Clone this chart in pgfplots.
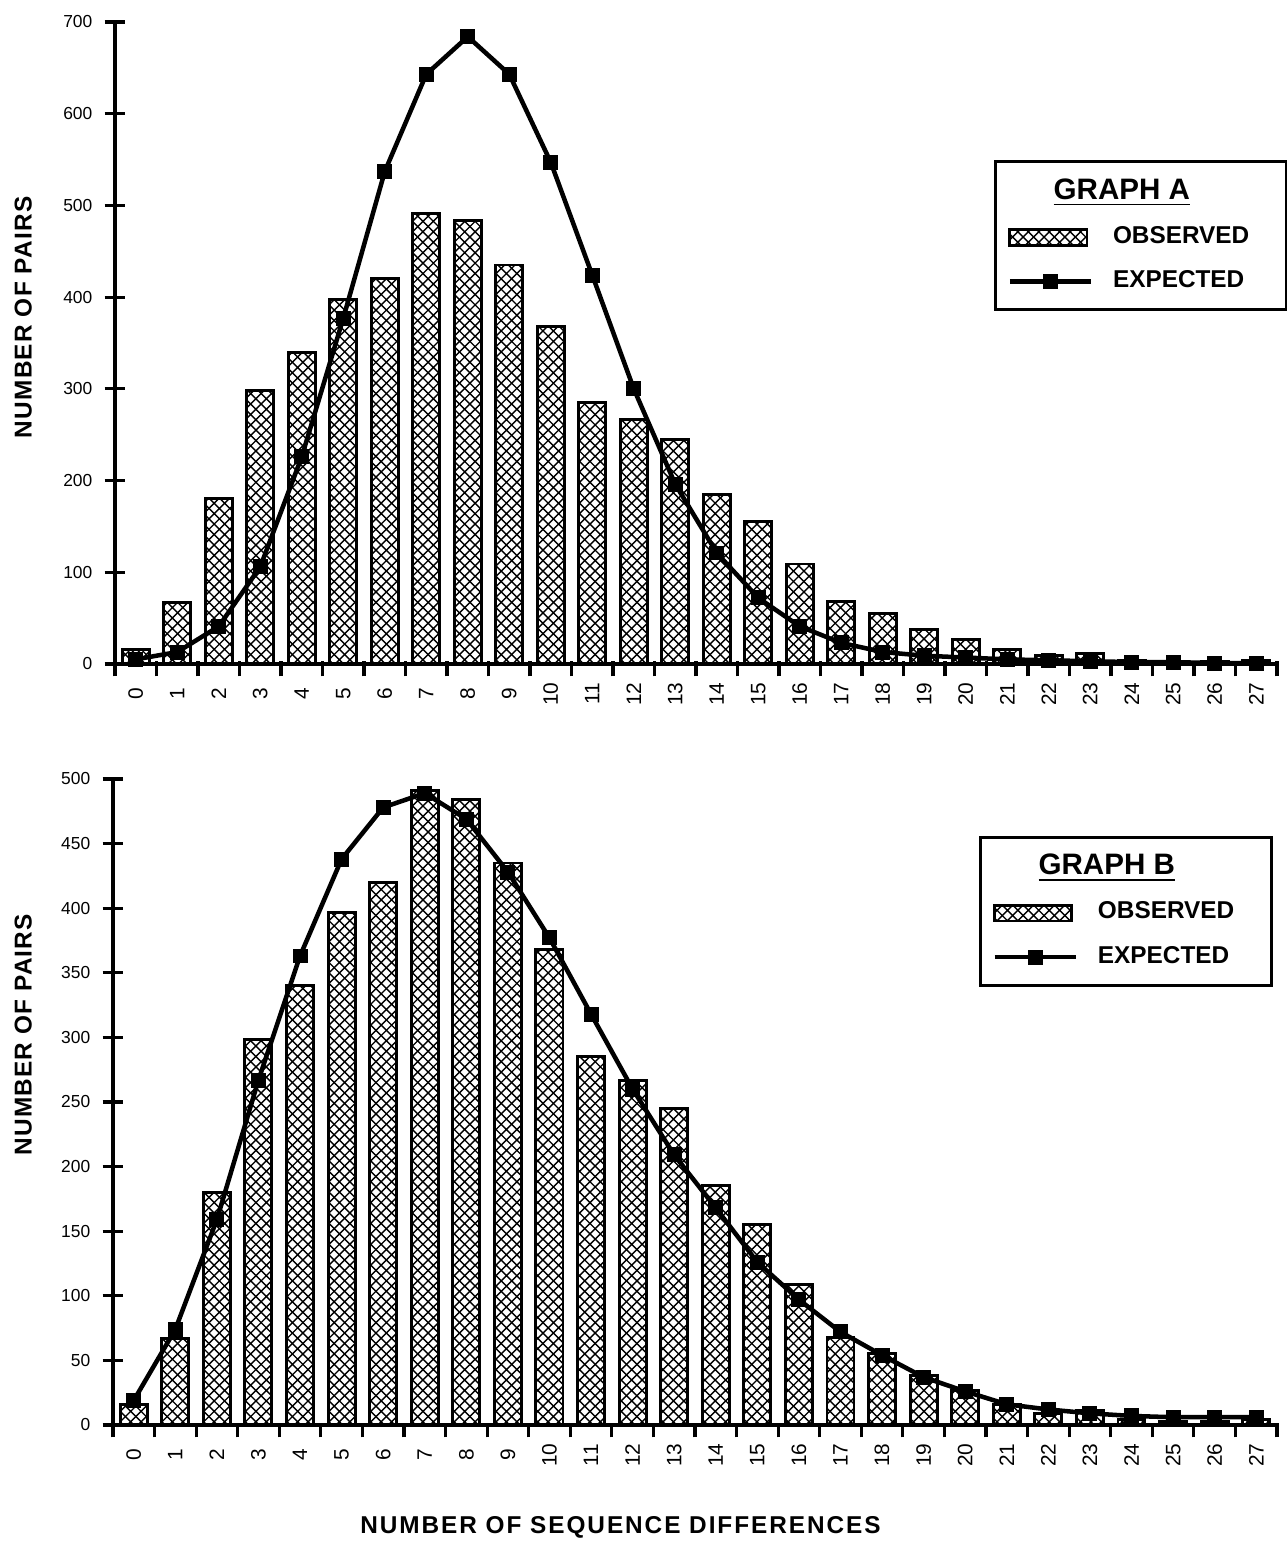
\documentclass[border=0pt]{standalone}
\usepackage{fontspec}
\setmainfont{Liberation Sans}
\usepackage{pgfplots}
\pgfplotsset{compat=1.18}
\usetikzlibrary{patterns}

\newcommand{\lblfont}{\fontsize{7}{8}\selectfont\bfseries}

\pgfplotsset{
  pairs/.style={
    scale only axis,
    axis lines=left,
    axis line style={-, line width=0.9pt},
    xmin=-0.5, xmax=27.5, ymin=0,
    xtick={0,...,27},
    minor xtick={-0.5,0.5,...,27.5},
    major x tick style={draw=none},
    tick align=center,
    major tick length=0.21cm,
    minor tick length=0.15cm,
    tick style={line width=0.9pt, black},
    minor x tick style={yshift=-0.05cm},
    % rotated labels: xshift runs downwards here
    xticklabel style={rotate=90, anchor=center, xshift=-0.2cm, font=\fontsize{6}{7}\selectfont},
    yticklabel style={font=\fontsize{5}{6}\selectfont},
    /pgf/number format/assume math mode=true,
    ylabel={\addfontfeature{LetterSpace=5}NUMBER OF PAIRS},
    label style={font=\lblfont},
    legend style={anchor=north west, draw=black, line width=0.9pt,
      inner xsep=0.12cm, inner ysep=0.1cm, row sep=0.08cm, column sep=0.13cm,
      font=\lblfont, cells={anchor=west, inner sep=0pt}},
  },
  obs/.style={ybar, bar width=0.65, draw=black, line width=0.85pt, pattern=crosshatch,
    legend image code/.code={\draw[#1] (0cm,-0.08cm) rectangle (0.78cm,0.08cm);}},
  expd/.style={sharp plot, black, line width=1.3pt, mark=square*, mark size=1.5pt,
    legend image code/.code={\draw[mark repeat=2,mark phase=2,#1] plot coordinates {(0cm,0cm) (0.41cm,0cm) (0.82cm,0cm)};}},
}

% observed pairs, same in both graphs
\pgfplotstableread{
k n
0 16
1 67
2 180
3 298
4 340
5 397
6 420
7 491
8 484
9 435
10 368
11 285
12 267
13 245
14 185
15 155
16 109
17 68
18 55
19 38
20 27
21 16
22 9
23 11
24 4
25 3
26 3
27 4
}\observed

\pgfplotstableread{
k n
0 5
1 13
2 41
3 106
4 226
5 377
6 537
7 643
8 684
9 643
10 547
11 424
12 300
13 196
14 121
15 72
16 41
17 23
18 13
19 9
20 7
21 5
22 4
23 3
24 2
25 2
26 1
27 1
}\expA

\pgfplotstableread{
k n
0 19
1 74
2 159
3 267
4 363
5 438
6 478
7 489
8 469
9 428
10 377
11 318
12 260
13 209
14 168
15 126
16 97
17 72
18 54
19 37
20 26
21 16
22 12
23 9
24 7
25 6
26 6
27 6
}\expB

\begin{document}
\begin{tikzpicture}
\useasboundingbox (0,0) rectangle (13cm,15.576cm);

% GRAPH A
\begin{axis}[pairs,
  at={(1.162cm,8.869cm)}, anchor=south west,
  width=11.737cm, height=6.485cm,
  ymax=700, ytick={0,100,...,700},
  ylabel style={at={(axis description cs:-0.079,0.54)}, anchor=center},
  legend style={at={(axis description cs:0.7565,0.785)}},
]
\addlegendimage{empty legend}
\addplot[obs] table[x=k,y=n] {\observed};
\addplot[expd] table[x=k,y=n] {\expA};
\legend{{\fontsize{8.5}{9}\selectfont\hspace*{-0.6cm}\underline{GRAPH A}\rule[-0.17cm]{0pt}{0pt}},
  {\makebox[1.56cm][l]{OBSERVED}}, {EXPECTED}}
\end{axis}

% GRAPH B
\begin{axis}[pairs,
  at={(1.141cm,1.182cm)}, anchor=south west,
  width=11.758cm, height=6.525cm,
  ymax=500, ytick={0,50,...,500},
  ylabel style={at={(axis description cs:-0.077,0.604)}, anchor=center},
  xlabel={\addfontfeature{LetterSpace=8}NUMBER OF SEQUENCE DIFFERENCES},
  xlabel style={at={(axis description cs:0.436,-0.159)}, anchor=center},
  legend style={at={(axis description cs:0.744,0.912)}},
]
\addlegendimage{empty legend}
\addplot[obs] table[x=k,y=n] {\observed};
\addplot[expd] table[x=k,y=n] {\expB};
\legend{{\fontsize{8.5}{9}\selectfont\hspace*{-0.6cm}\underline{GRAPH B}\rule[-0.17cm]{0pt}{0pt}},
  {\makebox[1.56cm][l]{OBSERVED}}, {EXPECTED}}
\end{axis}
\end{tikzpicture}
\end{document}
